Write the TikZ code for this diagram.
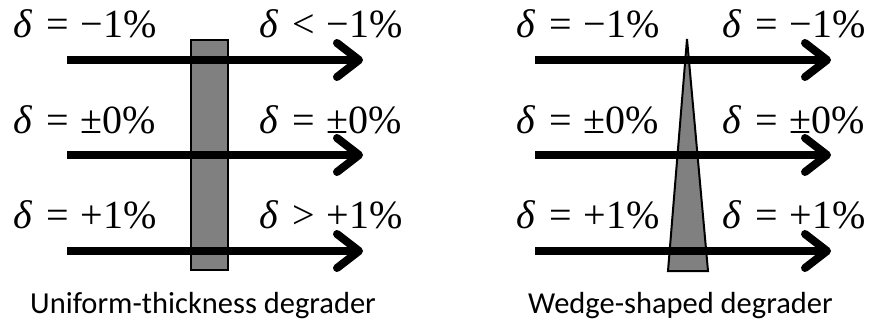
\documentclass[tikz,border=0pt]{standalone}
\usepackage{fontspec}
\setmainfont{Liberation Serif}
\newfontfamily\capfont{Carlito}
\usetikzlibrary{arrows.meta}
\newcommand{\dl}[2]{{\itshape δ}\hspace{0.36em}#1\hspace{0.3em}#2}
\begin{document}
\begin{tikzpicture}[x=1pt,y=-1pt,
  lab/.style={inner sep=0pt,anchor=base west,font=\fontsize{40}{42}\selectfont},
  captext/.style={inner sep=0pt,anchor=base west,font=\capfont\fontsize{30.5}{34}\selectfont},
  beam/.style={line width=8pt,-{Straight Barb[length=22pt,width=34pt,line width=8pt,round]}},
  plate/.style={draw=black,line width=2pt,fill=gray}]
\useasboundingbox (0,0) rectangle (869,326);
% left panel
\node[plate,minimum width=37pt,minimum height=230pt,inner sep=0pt] (r) at (209.5,155) {};
\foreach \y/\n in {60/a,155/b,251/c}{
  \coordinate (ls\n) at (67,\y);
  \coordinate (le\n) at (363,\y);
  \draw[beam] (ls\n) -- (le\n);
}
\node[lab] (l1) at (13,38) {\dl{=}{−1\%}};
\node[lab] (l2) at (13,133) {\dl{=}{±0\%}};
\node[lab] (l3) at (13,228) {\dl{=}{+1\%}};
\node[lab] (r1) at (259,38) {\dl{<}{−1\%}};
\node[lab] (r2) at (259,133) {\dl{=}{±0\%}};
\node[lab] (r3) at (259,228) {\dl{>}{+1\%}};
\node[captext] (c1) at (30,313) {Uniform-thickness degrader};
% right panel
\coordinate (w1) at (687,39);
\coordinate (w2) at (708,271);
\coordinate (w3) at (668,271);
\draw[plate,line join=miter] (w1) -- (w2) -- (w3) -- cycle;
\foreach \y/\n in {60/a,155/b,251/c}{
  \coordinate (ms\n) at (535,\y);
  \coordinate (me\n) at (831,\y);
  \draw[beam] (ms\n) -- (me\n);
}
\node[lab] (m1) at (516,38) {\dl{=}{−1\%}};
\node[lab] (m2) at (516,133) {\dl{=}{±0\%}};
\node[lab] (m3) at (516,228) {\dl{=}{+1\%}};
\node[lab] (n1) at (722,38) {\dl{=}{−1\%}};
\node[lab] (n2) at (722,133) {\dl{=}{±0\%}};
\node[lab] (n3) at (722,228) {\dl{=}{+1\%}};
\node[captext] (c2) at (528,313) {Wedge-shaped degrader};
\end{tikzpicture}
\end{document}
